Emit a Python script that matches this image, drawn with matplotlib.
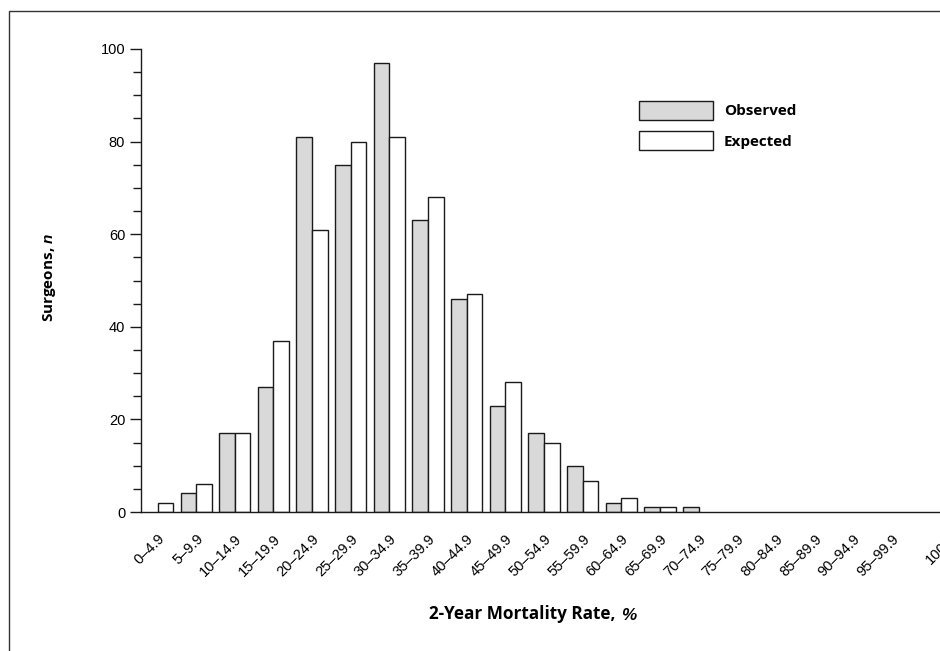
import numpy as np
import matplotlib
matplotlib.use('Agg')  # No DISPLAY
import matplotlib.pyplot as plt
import matplotlib.transforms as mtransforms
from matplotlib.patches import Rectangle
from matplotlib.ticker import MultipleLocator

plt.rcParams.update({'font.family': ['Liberation Sans', 'DejaVu Sans'],
                     'mathtext.fontset': 'custom',
                     'mathtext.rm': 'Open Sans:bold',
                     'mathtext.it': 'Liberation Sans:italic:bold'})

categories = ["0\u20134.9", "5\u20139.9", "10\u201314.9", "15\u201319.9",
              "20\u201324.9", "25\u201329.9", "30\u201334.9", "35\u201339.9",
              "40\u201344.9", "45\u201349.9", "50\u201354.9", "55\u201359.9",
              "60\u201364.9", "65\u201369.9", "70\u201374.9", "75\u201379.9",
              "80\u201384.9", "85\u201389.9", "90\u201394.9", "95\u201399.9",
              "100"]
observed = [0, 4, 17, 27, 81, 75, 97, 63, 46, 23, 17, 10, 2, 1, 1,
            0, 0, 0, 0, 0, 0]
expected = [2, 6, 17, 37, 61, 80, 81, 68, 47, 28, 15, 6.6, 3, 1, 0,
            0, 0, 0, 0, 0, 0]

GRAY = '#d9d9d9'
EDGE = '#1a1a1a'
W, H = 940, 651

fig = plt.figure(figsize=(W / 100, H / 100), dpi=100)
ax = fig.add_axes([141 / W, 1 - 512 / H, (953.7 - 141) / W, (512 - 49) / H])

x = np.arange(len(categories))
obs = np.array(observed, dtype=float)
exp = np.array(expected, dtype=float)
width = 0.405
# observed sits left of the category center, expected right of it
m = obs > 0
ax.bar(x[m] - width, obs[m], width, align='edge', color=GRAY,
       edgecolor=EDGE, linewidth=1.0, label='Observed')
m = exp > 0
ax.bar(x[m], exp[m], width, align='edge', color='white',
       edgecolor=EDGE, linewidth=1.0, label='Expected')

ax.set_xlim(-0.427, 20.6)
ax.set_ylim(0, 100)
ax.yaxis.set_major_locator(MultipleLocator(20))
ax.yaxis.set_minor_locator(MultipleLocator(5))
ax.tick_params(axis='y', which='major', length=8, width=1.0, pad=3.4,
               labelsize=10.5, color=EDGE)
ax.tick_params(axis='y', which='minor', length=6, width=1.0, color=EDGE)
ax.set_xticks(x)
ax.set_xticklabels(categories, rotation=45, ha='right', va='top',
                   rotation_mode='anchor')
ax.tick_params(axis='x', length=0, pad=14, labelsize=10.5)
# the last label sits lower and further right, half cut off by the edge
last = ax.get_xticklabels()[-1]
last.set_transform(last.get_transform() +
                   mtransforms.ScaledTranslation(0.10, -0.08,
                                                 fig.dpi_scale_trans))

for s in ['top', 'right']:
    ax.spines[s].set_visible(False)
for s in ['left', 'bottom']:
    ax.spines[s].set_linewidth(1.0)
    ax.spines[s].set_color(EDGE)

leg = ax.legend(loc='upper left', bbox_to_anchor=(639 / W, 1 - 100.7 / H),
                bbox_transform=fig.transFigure, frameon=False,
                borderpad=0, borderaxespad=0, handlelength=4.84,
                handleheight=1.53, handletextpad=0.7, labelspacing=0.75,
                prop={'family': 'Open Sans', 'weight': 'bold', 'size': 11})

xl = fig.text(522 / W, 1 - 614 / H, '2-Year Mortality Rate,',
              ha='center', va='center', family='Open Sans', weight='bold',
              size=12.3)
ax.annotate('%', xy=(1, 0), xycoords=xl, xytext=(4, 0),
            textcoords='offset points', ha='left', va='bottom',
            family='Liberation Sans', style='italic', weight='bold',
            size=12.3, annotation_clip=False)
fig.text(50 / W, 1 - 277 / H, r'Surgeons, $\mathit{n}$', rotation=90,
         ha='center', va='center', family='Open Sans', weight='bold',
         size=11)

# outer frame, cut off at the right and bottom
fig.patches.append(Rectangle((9 / W, -0.1), 2, 1.1 - 11 / H, fill=False,
                             edgecolor='#333333', linewidth=1.0,
                             transform=fig.transFigure))

fig.savefig('out.png', dpi=100)
